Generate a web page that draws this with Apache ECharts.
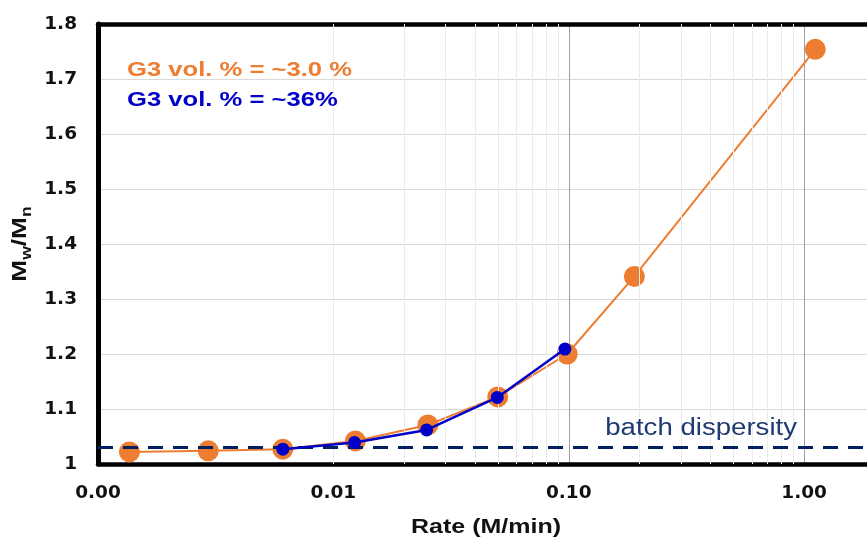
<!DOCTYPE html>
<html>
<head>
<meta charset="utf-8">
<script src="https://cdn.jsdelivr.net/npm/echarts@6/dist/echarts.min.js"></script>
<style>
  html, body { margin: 0; padding: 0; background: #ffffff; overflow: hidden; }
  #chart { width: 867px; height: 546px; }
</style>
</head>
<body>
<div id="chart"></div>
<script>
// Dispersity vs. monomer addition rate
const rateLow = [0.00136, 0.00294, 0.0061, 0.0124, 0.0252, 0.0499, 0.0985, 0.19, 1.115];
const pdiLow = [1.022, 1.024, 1.027, 1.042, 1.071, 1.122, 1.200, 1.341, 1.754];
const rateHigh = [0.0061, 0.0123, 0.0249, 0.0497, 0.0963];
const pdiHigh = [1.027, 1.039, 1.062, 1.121, 1.209];
const batchDispersity = 1.03;

const labelLow = 'G3 vol. % = ~3.0 %';
const labelHigh = 'G3 vol. % = ~36%';
const xTitle = 'Rate (M/min)';

const ORANGE = '#ED7D31';
const BLUE = '#0000C8';
const NAVY = '#002060';
const ARIAL = '"Liberation Sans", Arial, sans-serif';
const TICKFONT = '"DejaVu Sans", "Liberation Sans", sans-serif';

// light vertical lines at 2..9 within each decade of the log axis
const xMin = 0.001, xMax = 2;
const minorX = [];
for (let d = xMin; d < xMax; d *= 10) {
  for (let m = 2; m <= 9; m++) {
    const v = +(m * d).toPrecision(6);
    if (v < xMax) minorX.push(v);
  }
}

const chart = echarts.init(document.getElementById('chart'), null, { renderer: 'canvas' });

chart.setOption({
  animation: false,
  backgroundColor: '#ffffff',
  // plot area runs slightly past the right edge of the canvas
  grid: { left: 98, width: 777, top: 24, bottom: 82, containLabel: false, outerBoundsMode: 'none' },
  xAxis: [
    {
      type: 'log',
      logBase: 10,
      min: xMin,
      max: xMax,
      axisLine: { show: true, onZero: false, lineStyle: { color: '#000', width: 4.5 } },
      axisTick: { show: false },
      axisLabel: {
        show: true,
        margin: 20,
        showMaxLabel: false,
        fontFamily: TICKFONT,
        fontWeight: 'bold',
        fontSize: 18.5,
        color: '#111',
        formatter: v => Number(v).toFixed(2)
      },
      splitLine: { show: true, lineStyle: { color: '#a0a0a0', width: 1 } }
    },
    {
      type: 'value',
      position: 'top',
      min: 0,
      max: 1,
      axisLine: { show: true, lineStyle: { color: '#000', width: 4.5 } },
      axisTick: { show: false },
      axisLabel: { show: false },
      splitLine: { show: false }
    }
  ],
  yAxis: {
    type: 'value',
    min: 1,
    max: 1.8,
    interval: 0.1,
    axisLine: { show: true, onZero: false, lineStyle: { color: '#000', width: 5 } },
    axisTick: { show: false },
    axisLabel: {
      margin: 21,
      padding: [5, 0, 0, 0],
      fontFamily: TICKFONT,
      fontWeight: 'bold',
      fontSize: 18.5,
      color: '#111'
    },
    splitLine: { show: true, lineStyle: { color: '#d9d9d9', width: 1 } }
  },
  series: [
    {
      name: 'minor grid',
      type: 'line',
      data: [],
      silent: true,
      z: 1,
      markLine: {
        silent: true,
        symbol: ['none', 'none'],
        label: { show: false },
        lineStyle: { color: '#ebebeb', width: 1, type: 'solid' },
        data: minorX.map(v => ({ xAxis: v }))
      }
    },
    {
      name: labelLow,
      type: 'line',
      data: rateLow.map((r, i) => [r, pdiLow[i]]),
      z: 3,
      symbol: 'circle',
      symbolSize: 21,
      lineStyle: { color: ORANGE, width: 2 },
      itemStyle: { color: ORANGE }
    },
    {
      name: 'batch',
      type: 'line',
      data: [],
      silent: true,
      z: 4,
      markLine: {
        silent: true,
        symbol: ['none', 'none'],
        label: { show: false },
        lineStyle: { color: NAVY, width: 3, type: [15, 10] },
        data: [{ yAxis: batchDispersity }]
      }
    },
    {
      name: labelHigh,
      type: 'line',
      data: rateHigh.map((r, i) => [r, pdiHigh[i]]),
      z: 5,
      symbol: 'circle',
      symbolSize: 13,
      lineStyle: { color: BLUE, width: 2.5 },
      itemStyle: { color: BLUE }
    }
  ],
  graphic: [
    {
      type: 'text', x: 127, y: 70, scaleX: 1.22, z: 10,
      style: { text: labelLow, fill: ORANGE, font: 'bold 21px ' + ARIAL, align: 'left', verticalAlign: 'middle' }
    },
    {
      type: 'text', x: 127, y: 100, scaleX: 1.22, z: 10,
      style: { text: labelHigh, fill: BLUE, font: 'bold 21px ' + ARIAL, align: 'left', verticalAlign: 'middle' }
    },
    {
      type: 'text', x: 797, y: 429, scaleX: 1.2, z: 10,
      style: { text: 'batch dispersity', fill: '#1f3a73', font: '23px ' + ARIAL, align: 'right', verticalAlign: 'middle' }
    },
    {
      type: 'text', x: 486, y: 527, scaleX: 1.25, z: 10,
      style: { text: xTitle, fill: '#111', font: 'bold 20px ' + ARIAL, align: 'center', verticalAlign: 'middle' }
    },
    {
      type: 'text', x: 20, y: 244, rotation: Math.PI / 2, scaleX: 1.25, z: 10,
      style: {
        text: '{m|M}{s|w}{m|/M}{s|n}',
        align: 'center',
        verticalAlign: 'middle',
        fill: '#111',
        rich: {
          m: { font: 'bold 21px ' + ARIAL, fill: '#111' },
          s: { font: 'bold 14px ' + ARIAL, fill: '#111', padding: [15, 0, 0, 0] }
        }
      }
    }
  ]
});
</script>
</body>
</html>
